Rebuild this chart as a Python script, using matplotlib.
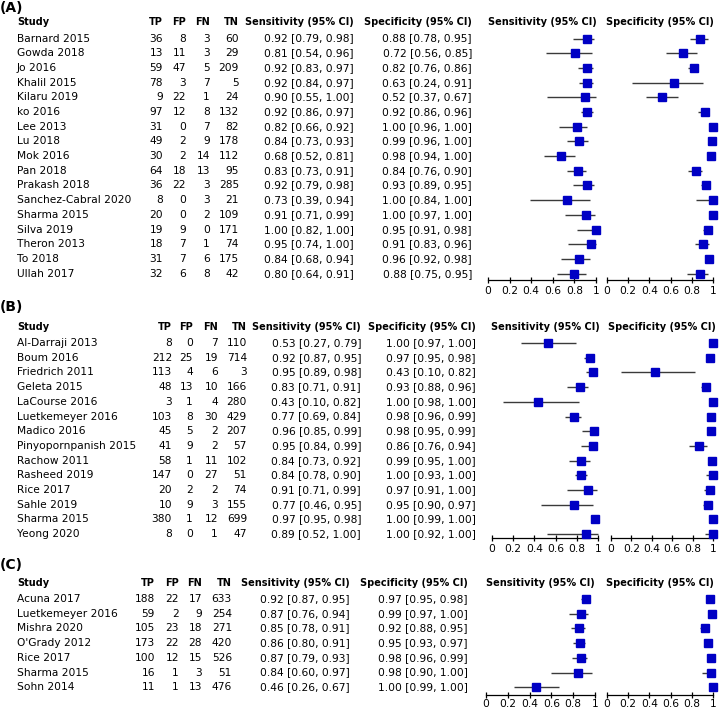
import matplotlib
matplotlib.use('Agg')
import matplotlib.pyplot as plt

# ---- panel A ----
a_study = ['Barnard 2015', 'Gowda 2018', 'Jo 2016', 'Khalil 2015', 'Kilaru 2019', 'ko 2016',
           'Lee 2013', 'Lu 2018', 'Mok 2016', 'Pan 2018', 'Prakash 2018', 'Sanchez-Cabral 2020',
           'Sharma 2015', 'Silva 2019', 'Theron 2013', 'To 2018', 'Ullah 2017']
a_tp = [36, 13, 59, 78, 9, 97, 31, 49, 30, 64, 36, 8, 20, 19, 18, 31, 32]
a_fp = [8, 11, 47, 3, 22, 12, 0, 2, 2, 18, 22, 0, 0, 9, 7, 7, 6]
a_fn = [3, 3, 5, 7, 1, 8, 7, 9, 14, 13, 3, 3, 2, 0, 1, 6, 8]
a_tn = [60, 29, 209, 5, 24, 132, 82, 178, 112, 95, 285, 21, 109, 171, 74, 175, 42]
a_sens = [0.92, 0.81, 0.92, 0.92, 0.90, 0.92, 0.82, 0.84, 0.68, 0.83, 0.92, 0.73, 0.91, 1.00, 0.95, 0.84, 0.80]
a_sens_lo = [0.79, 0.54, 0.83, 0.84, 0.55, 0.86, 0.66, 0.73, 0.52, 0.73, 0.79, 0.39, 0.71, 0.82, 0.74, 0.68, 0.64]
a_sens_hi = [0.98, 0.96, 0.97, 0.97, 1.00, 0.97, 0.92, 0.93, 0.81, 0.91, 0.98, 0.94, 0.99, 1.00, 1.00, 0.94, 0.91]
a_spec = [0.88, 0.72, 0.82, 0.63, 0.52, 0.92, 1.00, 0.99, 0.98, 0.84, 0.93, 1.00, 1.00, 0.95, 0.91, 0.96, 0.88]
a_spec_lo = [0.78, 0.56, 0.76, 0.24, 0.37, 0.86, 0.96, 0.96, 0.94, 0.76, 0.89, 0.84, 0.97, 0.91, 0.83, 0.92, 0.75]
a_spec_hi = [0.95, 0.85, 0.86, 0.91, 0.67, 0.96, 1.00, 1.00, 1.00, 0.90, 0.95, 1.00, 1.00, 0.98, 0.96, 0.98, 0.95]

# ---- panel B ----
b_study = ['Al-Darraji 2013', 'Boum 2016', 'Friedrich 2011', 'Geleta 2015', 'LaCourse 2016',
           'Luetkemeyer 2016', 'Madico 2016', 'Pinyopornpanish 2015', 'Rachow 2011', 'Rasheed 2019',
           'Rice 2017', 'Sahle 2019', 'Sharma 2015', 'Yeong 2020']
b_tp = [8, 212, 113, 48, 3, 103, 45, 41, 58, 147, 20, 10, 380, 8]
b_fp = [0, 25, 4, 13, 1, 8, 5, 9, 1, 0, 2, 9, 1, 0]
b_fn = [7, 19, 6, 10, 4, 30, 2, 2, 11, 27, 2, 3, 12, 1]
b_tn = [110, 714, 3, 166, 280, 429, 207, 57, 102, 51, 74, 155, 699, 47]
b_sens = [0.53, 0.92, 0.95, 0.83, 0.43, 0.77, 0.96, 0.95, 0.84, 0.84, 0.91, 0.77, 0.97, 0.89]
b_sens_lo = [0.27, 0.87, 0.89, 0.71, 0.10, 0.69, 0.85, 0.84, 0.73, 0.78, 0.71, 0.46, 0.95, 0.52]
b_sens_hi = [0.79, 0.95, 0.98, 0.91, 0.82, 0.84, 0.99, 0.99, 0.92, 0.90, 0.99, 0.95, 0.98, 1.00]
b_spec = [1.00, 0.97, 0.43, 0.93, 1.00, 0.98, 0.98, 0.86, 0.99, 1.00, 0.97, 0.95, 1.00, 1.00]
b_spec_lo = [0.97, 0.95, 0.10, 0.88, 0.98, 0.96, 0.95, 0.76, 0.95, 0.93, 0.91, 0.90, 0.99, 0.92]
b_spec_hi = [1.00, 0.98, 0.82, 0.96, 1.00, 0.99, 0.99, 0.94, 1.00, 1.00, 1.00, 0.97, 1.00, 1.00]

# ---- panel C ----
c_study = ['Acuna 2017', 'Luetkemeyer 2016', 'Mishra 2020', "O'Grady 2012", 'Rice 2017',
           'Sharma 2015', 'Sohn 2014']
c_tp = [188, 59, 105, 173, 100, 16, 11]
c_fp = [22, 2, 23, 22, 12, 1, 1]
c_fn = [17, 9, 18, 28, 15, 3, 13]
c_tn = [633, 254, 271, 420, 526, 51, 476]
c_sens = [0.92, 0.87, 0.85, 0.86, 0.87, 0.84, 0.46]
c_sens_lo = [0.87, 0.76, 0.78, 0.80, 0.79, 0.60, 0.26]
c_sens_hi = [0.95, 0.94, 0.91, 0.91, 0.93, 0.97, 0.67]
c_spec = [0.97, 0.99, 0.92, 0.95, 0.98, 0.98, 1.00]
c_spec_lo = [0.95, 0.97, 0.88, 0.93, 0.96, 0.90, 0.99]
c_spec_hi = [0.98, 1.00, 0.95, 0.97, 0.99, 1.00, 1.00]

W, H = 720, 710
FS = 7.7
HFS = 7.0
SP = 14.7

fig = plt.figure(figsize=(W / 100, H / 100), dpi=100)
bg = fig.add_axes([0, 0, 1, 1])
bg.set_xlim(0, W)
bg.set_ylim(H, 0)
bg.axis('off')


def ci(v, lo, hi):
    return '%.2f [%.2f, %.2f]' % (v, lo, hi)


def forest(x0, x1, row0, axis_y, vals, lo, hi, pad=1.5):
    ax = fig.add_axes([x0 / W, 1 - axis_y / H, (x1 - x0) / W, (axis_y - row0 + SP) / H])
    ys = list(range(len(vals)))
    ax.hlines(ys, lo, hi, color='#3a3a3a', lw=1, clip_on=False)
    ax.plot(vals, ys, 's', color='#0000c4', ms=5.2, mec='#0000c4', clip_on=False, zorder=3)
    ax.set_xlim(0, 1)
    ax.set_ylim((axis_y - row0) / SP, -1)
    for s in ['top', 'left', 'right']:
        ax.spines[s].set_visible(False)
    ax.spines['bottom'].set_linewidth(0.9)
    ax.set_yticks([])
    ax.set_xticks([0, 0.2, 0.4, 0.6, 0.8, 1])
    ax.set_xticklabels(['0', '0.2', '0.4', '0.6', '0.8', '1'])
    ax.tick_params(axis='x', direction='inout', length=5, width=0.9, pad=pad, labelsize=FS)
    ax.patch.set_visible(False)


def panel(label, label_y, head_y, row0, axis_y, cols, study, tp, fp, fn, tn,
          sens, sens_lo, sens_hi, spec, spec_lo, spec_hi, pad=1.5):
    x_tp, x_fp, x_fn, x_tn, x_sens, x_spec, sx0, sx1, px0, px1 = cols
    bg.text(0, label_y, label, fontsize=10, fontweight='bold', va='center', ha='left')
    hd = dict(fontsize=HFS, fontweight='bold', va='center')
    bg.text(17, head_y, 'Study', ha='left', **hd)
    bg.text(x_tp, head_y, 'TP', ha='right', **hd)
    bg.text(x_fp, head_y, 'FP', ha='right', **hd)
    bg.text(x_fn, head_y, 'FN', ha='right', **hd)
    bg.text(x_tn, head_y, 'TN', ha='right', **hd)
    bg.text(x_sens, head_y, 'Sensitivity (95% CI)', ha='right', **hd)
    bg.text(x_spec, head_y, 'Specificity (95% CI)', ha='right', **hd)
    bg.text((sx0 + sx1) / 2, head_y, 'Sensitivity (95% CI)', ha='center', **hd)
    bg.text((px0 + px1) / 2, head_y, 'Specificity (95% CI)', ha='center', **hd)
    for i in range(len(study)):
        y = row0 + i * SP
        bg.text(17, y, study[i], ha='left', va='center', fontsize=FS)
        bg.text(x_tp, y, str(tp[i]), ha='right', va='center', fontsize=FS)
        bg.text(x_fp, y, str(fp[i]), ha='right', va='center', fontsize=FS)
        bg.text(x_fn, y, str(fn[i]), ha='right', va='center', fontsize=FS)
        bg.text(x_tn, y, str(tn[i]), ha='right', va='center', fontsize=FS)
        bg.text(x_sens, y, ci(sens[i], sens_lo[i], sens_hi[i]), ha='right', va='center', fontsize=FS)
        bg.text(x_spec, y, ci(spec[i], spec_lo[i], spec_hi[i]), ha='right', va='center', fontsize=FS)
    forest(sx0, sx1, row0, axis_y, sens, sens_lo, sens_hi, pad)
    forest(px0, px1, row0, axis_y, spec, spec_lo, spec_hi, pad)


panel('(A)', 8, 22, 38.5, 280, (163, 186, 210, 239, 354, 472, 488, 596, 607, 713),
      a_study, a_tp, a_fp, a_fn, a_tn, a_sens, a_sens_lo, a_sens_hi, a_spec, a_spec_lo, a_spec_hi)
panel('(B)', 307, 327, 343, 538, (172, 193, 218, 247, 361, 476, 492, 598, 611, 713),
      b_study, b_tp, b_fp, b_fn, b_tn, b_sens, b_sens_lo, b_sens_hi, b_spec, b_spec_lo, b_spec_hi)
panel('(C)', 565, 583, 599, 695, (155, 179, 202, 232, 350, 468, 486, 595, 607, 713),
      c_study, c_tp, c_fp, c_fn, c_tn, c_sens, c_sens_lo, c_sens_hi, c_spec, c_spec_lo, c_spec_hi,
      pad=0.6)

fig.savefig('out.png', dpi=100)
